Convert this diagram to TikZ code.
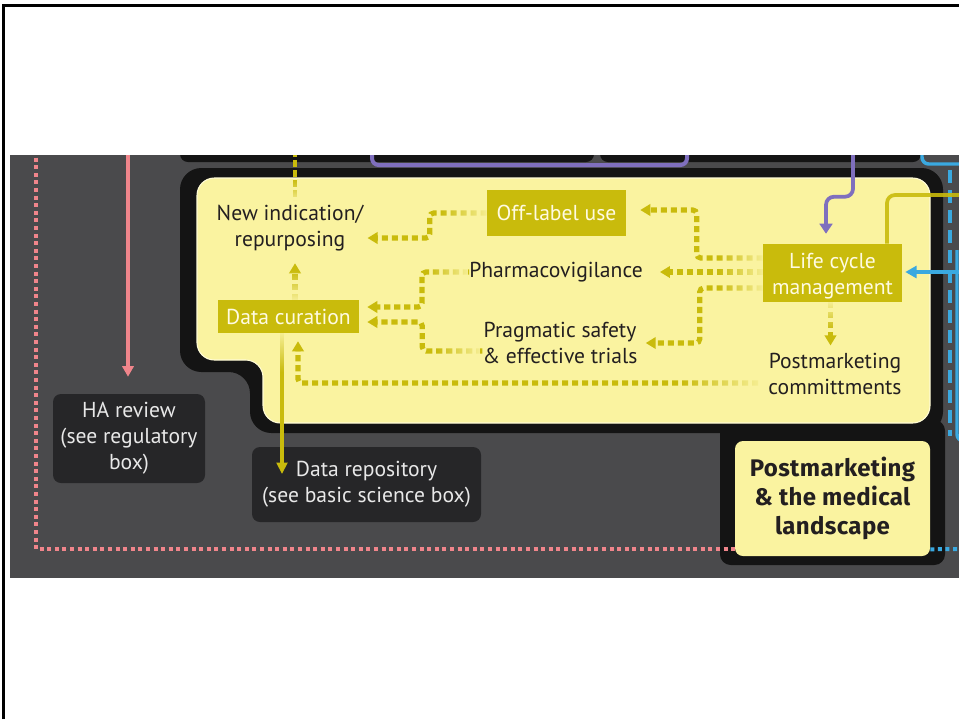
\documentclass[tikz,border=0pt]{standalone}
\usepackage{fontspec}
\setmainfont{PT Sans}
\newfontfamily\titlefont{Fira Sans}[LetterSpace=1.5]
\usetikzlibrary{arrows.meta,calc,fadings}

\definecolor{slate}{HTML}{4A4A4C}
\definecolor{ink}{HTML}{141414}
\definecolor{cream}{HTML}{FAF3A0}
\definecolor{creamedge}{HTML}{FFFBD6}
\definecolor{olive}{HTML}{C9BB0C}
\definecolor{olivetext}{HTML}{FFFBE2}
\definecolor{darkbox}{HTML}{262628}
\definecolor{boxtext}{HTML}{E8E8E8}
\definecolor{salmon}{HTML}{F0858B}
\definecolor{lilac}{HTML}{7F6FBE}
\definecolor{sky}{HTML}{3AA9E0}
\definecolor{textdark}{HTML}{231F20}

% soft start of the flows: cream veils that thin out away from the source
\tikzfading[name=veilR, left color=transparent!100, right color=transparent!8]
\tikzfading[name=veilT, bottom color=transparent!100, top color=transparent!8]
\tikzfading[name=veilB, top color=transparent!100, bottom color=transparent!8]

\tikzset{
  copy/.style={font=\fontsize{16.2}{19.5}\selectfont, text=textdark, align=center, inner sep=0pt},
  olivebox/.style={fill=olive, text=olivetext, font=\fontsize{16.2}{19.5}\selectfont, align=center, inner sep=0pt},
  darkcard/.style={fill=darkbox, rounded corners=6pt, text=boxtext, font=\fontsize{16.2}{19.5}\selectfont, align=center, inner sep=0pt},
  titlecard/.style={fill=cream, rounded corners=6pt, text=textdark, font=\titlefont\bfseries\fontsize{18}{22}\selectfont, align=center, inner sep=0pt},
  dotflow/.style={draw=olive, line width=3.9pt, dash pattern=on 4.6pt off 2.9pt, rounded corners=3pt, -{Triangle[width=8.5pt,length=7.5pt]}},
  squaredots/.style={line width=3pt, dash pattern=on 3pt off 2.7pt},
  veil/.style={fill=cream, path fading=#1},
  wire/.style={line width=2.8pt, rounded corners=6pt},
}

\begin{document}
\begin{tikzpicture}[x=0.75pt,y=-0.75pt]
\useasboundingbox (0,0) rectangle (959,719);
\fill[white] (0,0) rectangle (959,719);
\draw[line width=2.25pt, line join=miter] (3.8,719) -- (3.8,5.2) -- (959,5.2);

% dark panel
\fill[slate] (10,155) rectangle (959,578);

\begin{scope}
\clip (10,155) rectangle (959,578);

% neighbouring panels along the top edge
\fill[ink, rounded corners=6pt] (180,130) rectangle (594,162);
\fill[ink, rounded corners=6pt] (600,130) rectangle (921,162);
\draw[lilac, line width=3pt, rounded corners=5pt] (372,130) |- (687,165) -- (687,130);
\draw[sky, line width=2.6pt, rounded corners=5pt] (922,140) |- (975,164);
\draw[sky, line width=2.6pt, dash pattern=on 10pt off 5pt] (950,170) -- (950,436);
\draw[sky, line width=2.6pt, rounded corners=5pt] (957,250) |- (975,441);

% postmarketing panel: black frame and cream body
\fill[ink, rounded corners=16pt] (560,168) -- (943,168) -- (943,433) -- (250,433) -- (250,372) -- (180,372) -- (180,168) -- cycle;
\fill[ink, rounded corners=8pt] (720,420) rectangle (945,565);
\filldraw[fill=cream, draw=creamedge, line width=0.8pt, rounded corners=13pt]
  (560,178) -- (930,178) -- (930,423) -- (263,423) -- (263,360) -- (197,360) -- (197,178) -- cycle;

% nodes
\node[copy] (newind) at (290,228) {New indication/\\repurposing};
\node[olivebox, minimum width=105.75pt, minimum height=24.75pt] (dcur) at (288.5,316.5) {Data curation};
\node[olivebox, minimum width=104.25pt, minimum height=34.5pt] (offl) at (556.5,213) {Off-label use};
\node[olivebox, minimum width=104.25pt, minimum height=43.5pt] (life) at (832.5,273) {\rule{0pt}{16pt}Life cycle\\management};
\node[copy] (pharma) at (556,272) {Pharmacovigilance};
\node[copy] (prag) at (560,342.5) {Pragmatic safety\\\& effective trials};
\node[copy] (postc) at (835,373.5) {Postmarketing\\committments};
\node[darkcard, minimum width=114pt, minimum height=66.75pt] (ha) at (129,438.5) {HA review\\(see regulatory\\box)};
\node[darkcard, minimum width=171.75pt, minimum height=56.25pt] (repo) at (366.5,484.5) {Data repository\\(see basic science box)};
\node[titlecard, minimum width=146.25pt, minimum height=86.25pt] (pm) at (832.5,498.5) {Postmarketing\\\& the medical\\landscape};

% free ends at the panel edges
\coordinate (pinkTop) at (36,150);
\coordinate (pinkArrowTop) at (128,150);
\coordinate (skyDotsEdge) at (975,549);
\coordinate (lilacTop) at (853,150);
\coordinate (oliveEdge) at (975,195);
\coordinate (skyArrowEdge) at (975,272);
\coordinate (oliveTop) at (295,150);
\coordinate (repoIn) at (282,474);

% links to the neighbouring panels
\draw[salmon, squaredots] (pinkTop) |- ($(pm.south west)+(0,-7)$);
\draw[sky, squaredots] ($(pm.south east)+(0,-7)$) -- (skyDotsEdge);
\draw[salmon, line width=2.6pt, -{Triangle[width=8.5pt,length=8pt]}] (pinkArrowTop) -- ($(ha.north)+(-1,-17)$);
\draw[olive, line width=3pt, dash pattern=on 5pt off 2.5pt] (oliveTop) -- (295,200);
\draw[lilac, wire, -{Triangle[width=9.5pt,length=7.5pt]}] (lilacTop) |- ($(life.north)+(-6.5,-47)$) -- ($(life.north)+(-6.5,-10)$);
\draw[olive, opacity=0.9, wire] ($(life.north)+(54.5,0)$) |- (oliveEdge);
\draw[sky, line width=2.6pt, -{Triangle[width=9pt,length=8.5pt]}] (skyArrowEdge) -- ($(life.east)+(3,-1)$);

% flows inside the panel
\draw[dotflow] (offl.west) -- ++(-57,0) |- ($(newind.east)+(4,10)$);
\draw[dotflow] ($(life.west)+(0,-15)$) -- ++(-66,0) |- ($(offl.east)+(14,-3)$);
\draw[dotflow] (life.west |- pharma) -- ($(pharma.east)+(17,0)$);
\draw[dotflow] ($(life.west)+(0,15)$) -- ++(-63,0) |- ($(prag.east)+(8,0.5)$);
\draw[dotflow] (pharma.west) -- ++(-47,0) |- ($(dcur.east)+(8,-9.5)$);
\draw[dotflow] ($(prag.west)+(0,8.5)$) -- ++(-60,0) |- ($(dcur.east)+(8,5.5)$);
\draw[dotflow] ($(postc.west)+(-10,9.5)$) -| ($(dcur.south)+(9.5,8)$);
\draw[dotflow] ($(dcur.north)+(6.5,0)$) -- ($(newind.south)+(5,12)$);
\draw[dotflow] ($(life.south)+(-2,0)$) -- ($(postc.north)+(-4.5,-7)$);
\draw[olive, line width=3pt, -{Triangle[width=8pt,length=8.5pt]}] (dcur.south -| repoIn) -- (repoIn);

% veils
\fill[veil=veilR] (440,203) rectangle (487,223);
\fill[veil=veilR] (718,250) rectangle (763,266);
\fill[veil=veilR] (718,265) rectangle (763,280);
\fill[veil=veilR] (718,280) rectangle (763,296);
\fill[veil=veilR] (428,264) rectangle (468,281);
\fill[veil=veilR] (436,342) rectangle (480,359);
\fill[veil=veilR] (680,375) rectangle (760,392);
\fill[veil=veilB] (287,270) rectangle (303,300);
\fill[veil=veilT] (822,302) rectangle (838,330);
\fill[veil=veilT] (274,333) rectangle (290,372);
\fill[veil=veilB] (287,179) rectangle (303,202);
\end{scope}
\end{tikzpicture}
\end{document}
